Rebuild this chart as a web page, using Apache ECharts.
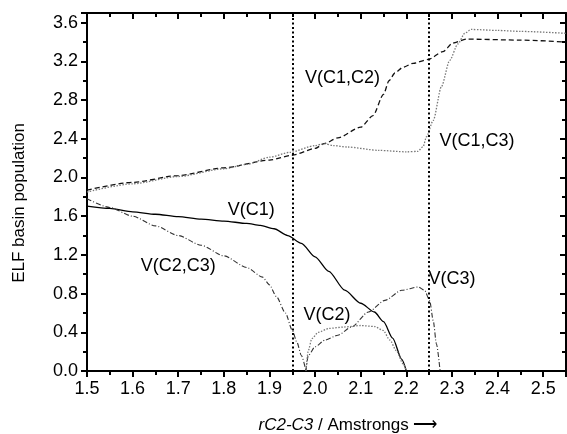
<!DOCTYPE html>
<html>
<head>
<meta charset="utf-8">
<script src="https://cdn.jsdelivr.net/npm/echarts@6/dist/echarts.min.js"></script>
<style>
    html, body { margin: 0; padding: 0; background: #fff; }
    #chart { width: 567px; height: 434px; }
</style>
</head>
<body>
<div id="chart"></div>
<script>
// ELF basin populations along the C2-C3 stretch
const c1X = [1.50, 1.55, 1.60, 1.65, 1.70, 1.75, 1.80, 1.85, 1.88, 1.91, 1.94, 1.97, 2.00, 2.03, 2.065, 2.10, 2.13, 2.15, 2.17, 2.19, 2.20];
const c1Y = [1.705, 1.68, 1.645, 1.62, 1.595, 1.57, 1.55, 1.525, 1.505, 1.47, 1.40, 1.32, 1.18, 1.03, 0.835, 0.70, 0.61, 0.51, 0.34, 0.12, 0.0];

const c2c3X = [1.50, 1.55, 1.60, 1.65, 1.70, 1.75, 1.80, 1.85, 1.885, 1.90, 1.915, 1.935, 1.95, 1.96, 1.97, 1.98];
const c2c3Y = [1.78, 1.69, 1.60, 1.50, 1.40, 1.30, 1.19, 1.07, 0.97, 0.89, 0.77, 0.60, 0.42, 0.30, 0.16, 0.0];

const c3X = [1.98, 1.985, 2.00, 2.022, 2.05, 2.08, 2.117, 2.153, 2.19, 2.226, 2.24, 2.251, 2.259, 2.266, 2.274];
const c3Y = [0.0, 0.16, 0.25, 0.32, 0.37, 0.455, 0.61, 0.73, 0.834, 0.868, 0.834, 0.73, 0.52, 0.28, 0.0];

const c2X = [1.98, 1.985, 1.993, 2.007, 2.03, 2.065, 2.10, 2.13, 2.149, 2.164, 2.178, 2.193, 2.20];
const c2Y = [0.0, 0.21, 0.335, 0.40, 0.44, 0.455, 0.47, 0.46, 0.42, 0.32, 0.21, 0.075, 0.0];

const c1c2X = [1.50, 1.60, 1.70, 1.80, 1.90, 1.95, 2.00, 2.02, 2.05, 2.10, 2.127, 2.15, 2.162, 2.175, 2.193, 2.215, 2.248, 2.28, 2.302, 2.332, 2.45, 2.55];
const c1c2Y = [1.87, 1.95, 2.02, 2.10, 2.18, 2.23, 2.30, 2.35, 2.41, 2.52, 2.64, 2.86, 3.00, 3.08, 3.14, 3.18, 3.22, 3.30, 3.39, 3.43, 3.42, 3.40];

const c1c3X = [1.50, 1.60, 1.70, 1.80, 1.85, 1.90, 1.945, 2.00, 2.02, 2.04, 2.07, 2.14, 2.20, 2.225, 2.237, 2.244, 2.259, 2.277, 2.295, 2.313, 2.328, 2.342, 2.40, 2.45, 2.55];
const c1c3Y = [1.85, 1.935, 2.01, 2.09, 2.135, 2.21, 2.26, 2.33, 2.35, 2.33, 2.315, 2.28, 2.265, 2.27, 2.32, 2.42, 2.59, 2.94, 3.21, 3.38, 3.49, 3.53, 3.52, 3.51, 3.49];

const barrierX = [1.95, 2.25];

const labelText = ['V(C1,C2)', 'V(C1,C3)', 'V(C1)', 'V(C2,C3)', 'V(C2)', 'V(C3)'];
const labelX = [2.06, 2.355, 1.86, 1.70, 2.026, 2.30];
const labelY = [3.03, 2.38, 1.665, 1.087, 0.58, 0.95];

const FONT = '"Liberation Sans", Arial, sans-serif';
const zip = (xs, ys) => xs.map((x, i) => [x, ys[i]]);

const chart = echarts.init(document.getElementById('chart'), null, { renderer: 'canvas' });

function curve(name, xs, ys, color, type, width) {
    return {
        name,
        type: 'line',
        data: zip(xs, ys),
        smooth: 0.25,
        smoothMonotone: 'x',
        symbol: 'none',
        lineStyle: { color, type, width },
        z: 3
    };
}

const axisCommon = {
    type: 'value',
    axisLine: { show: true, onZero: false, lineStyle: { color: '#000', width: 2 } },
    splitLine: { show: false },
    minorSplitLine: { show: false }
};

chart.setOption({
    animation: false,
    grid: { left: 87, right: 1, top: 13, bottom: 63 },
    xAxis: [
        {
            ...axisCommon,
            position: 'bottom',
            min: 1.5, max: 2.55, interval: 0.1,
            axisTick: { show: true, inside: false, length: 6, lineStyle: { color: '#000', width: 2 } },
            minorTick: { show: true, splitNumber: 2, length: 4, lineStyle: { color: '#000', width: 2 } },
            axisLabel: {
                color: '#000', fontSize: 18, fontFamily: FONT, margin: 9,
                showMaxLabel: false,
                formatter: v => v.toFixed(1)
            }
        },
        {
            ...axisCommon,
            position: 'top',
            min: 1.5, max: 2.55, interval: 0.1,
            axisTick: { show: true, inside: true, length: 6, lineStyle: { color: '#000', width: 2 } },
            minorTick: { show: true, splitNumber: 2, length: 4, lineStyle: { color: '#000', width: 2 } },
            axisLabel: { show: false }
        }
    ],
    yAxis: [
        {
            ...axisCommon,
            position: 'left',
            min: 0, max: 3.7, interval: 0.4,
            axisTick: { show: true, inside: false, length: 6, lineStyle: { color: '#000', width: 2 } },
            minorTick: { show: true, splitNumber: 2, length: 4, lineStyle: { color: '#000', width: 2 } },
            axisLabel: {
                color: '#000', fontSize: 18, fontFamily: FONT, margin: 9,
                showMaxLabel: false,
                formatter: v => v.toFixed(1)
            }
        },
        {
            ...axisCommon,
            position: 'right',
            min: 0, max: 3.7, interval: 0.4,
            axisTick: { show: true, inside: true, length: 6, lineStyle: { color: '#000', width: 2 } },
            minorTick: { show: true, splitNumber: 2, length: 4, lineStyle: { color: '#000', width: 2 } },
            axisLabel: { show: false }
        }
    ],
    graphic: [
        {
            type: 'text',
            x: 19, y: 203,
            rotation: Math.PI / 2,
            style: {
                text: 'ELF basin population',
                font: '17px ' + FONT,
                fill: '#000',
                align: 'center',
                verticalAlign: 'middle'
            }
        },
        {
            type: 'text',
            x: 348, y: 425,
            style: {
                text: '{i|rC2-C3} / Amstrongs ⟶',
                font: '17px ' + FONT,
                fill: '#000',
                align: 'center',
                verticalAlign: 'middle',
                rich: {
                    i: { font: 'italic 17px ' + FONT, fill: '#000' }
                }
            }
        }
    ],
    series: [
        curve('V(C1)', c1X, c1Y, '#000', 'solid', 1.3),
        curve('V(C1,C2)', c1c2X, c1c2Y, '#111', [5, 3], 1.3),
        curve('V(C1,C3)', c1c3X, c1c3Y, '#777', [1.5, 1.5], 1.3),
        curve('V(C2,C3)', c2c3X, c2c3Y, '#333', [5, 2, 1, 2], 1.1),
        curve('V(C3)', c3X, c3Y, '#333', [5, 2, 1, 2], 1.1),
        curve('V(C2)', c2X, c2Y, '#777', [1.5, 1.5], 1.3),
        {
            name: 'barriers',
            type: 'line',
            data: [],
            markLine: {
                silent: true,
                symbol: 'none',
                label: { show: false },
                lineStyle: { color: '#000', type: [2, 2.5], width: 2 },
                data: barrierX.map(x => ({ xAxis: x }))
            }
        },
        {
            name: 'labels',
            type: 'scatter',
            symbolSize: 0,
            itemStyle: { color: '#000', opacity: 1 },
            data: labelText.map((t, i) => ({ name: t, value: [labelX[i], labelY[i]] })),
            label: {
                show: true,
                position: 'inside',
                formatter: p => p.name,
                color: '#000',
                opacity: 1,
                textBorderWidth: 0,
                fontSize: 18,
                fontFamily: FONT
            },
            z: 5
        }
    ]
});
</script>
</body>
</html>
